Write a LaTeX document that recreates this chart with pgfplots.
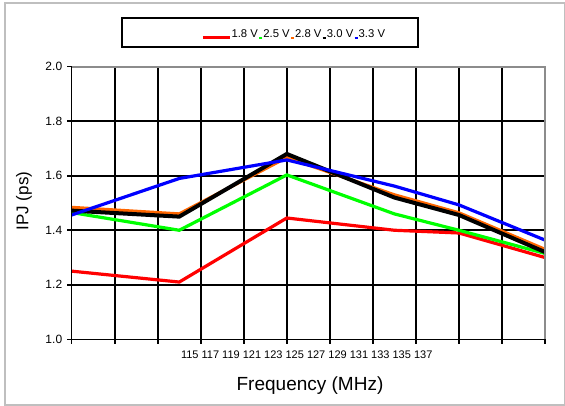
\documentclass[border=0pt]{standalone}
\usepackage{pgfplots}
\pgfplotsset{compat=1.18}
\usepackage{fontspec}
\setmainfont{Liberation Sans}

\definecolor{vred}{HTML}{FF0000}
\definecolor{vgreen}{HTML}{00FF00}
\definecolor{vorange}{HTML}{FF6600}
\definecolor{vblue}{HTML}{0000FF}
\definecolor{frame}{HTML}{BFBFBF}
\definecolor{pborder}{HTML}{8C8C8C}

\pgfplotsset{
  longleg/.style={legend image code/.code={\draw[##1] (0bp,-3.6bp) -- (27bp,-3.6bp);}},
  tinyleg/.style={legend image code/.code={\draw[##1, line width=2bp] (0bp,-4.4bp) -- (3bp,-4.4bp);}},
}

\begin{document}
\begin{tikzpicture}
\begin{axis}[
    scale only axis,
    width=473.3bp, height=272.6bp,
    at={(0,0)}, anchor=south west,
    clip mode=individual,
    xmin=115, xmax=137, ymin=1, ymax=2,
    xtick={115,117,...,137}, xticklabels={},
    ytick={1,1.2,1.4,1.6,1.8,2},
    /pgf/number format/assume math mode=true,
    ticklabel style={font=\fontsize{12bp}{14bp}\selectfont},
    yticklabel style={xshift=-1.5bp, /pgf/number format/.cd, fixed, fixed zerofill, precision=1},
    grid=major,
    grid style={black, line width=1.6bp},
    axis line style={draw=none},
    tick style={black, line width=1.6bp},
    tick align=outside, major tick length=4.5bp,
    xtick pos=bottom, ytick pos=left,
    ylabel={IPJ (ps)},
    ylabel style={font=\fontsize{17bp}{20bp}\selectfont, at={(axis description cs:-0.1008,0.507)}, anchor=center},
    xlabel={Frequency (MHz)},
    xlabel style={font=\fontsize{19bp}{22bp}\selectfont, at={(axis description cs:0.5035,-0.168)}, anchor=center},
    legend columns=5,
    legend style={draw=none, fill=none, at={(axis description cs:0.2668,1.1206)}, anchor=west,
        font=\fontsize{11.3bp}{14bp}\selectfont,
        nodes={inner xsep=0.2bp, inner ysep=1bp},
        /tikz/every even column/.append style={column sep=0pt}},
  ]
\addplot[vred, line width=3.2bp, longleg]
  coordinates {(115,1.25) (120,1.21) (125,1.445) (130,1.40) (133,1.39) (137,1.30)};
\addplot[vgreen, line width=3.2bp, tinyleg]
  coordinates {(115,1.465) (120,1.40) (125,1.603) (130,1.46) (133,1.40) (137,1.315)};
\addplot[vorange, line width=3.2bp, tinyleg]
  coordinates {(115,1.484) (120,1.46) (125,1.667) (130,1.53) (133,1.464) (137,1.33)};
\addplot[black, line width=4bp, tinyleg]
  coordinates {(115,1.472) (120,1.45) (125,1.68) (130,1.52) (133,1.456) (137,1.32)};
\addplot[vblue, line width=3.2bp, tinyleg]
  coordinates {(115,1.456) (120,1.59) (125,1.658) (130,1.562) (133,1.493) (137,1.364)};
\legend{1.8 V, 2.5 V, 2.8 V, 3.0 V, 3.3 V}
% plot area border: grey top/right, black left/bottom
\draw[pborder, line width=2bp] (rel axis cs:0,1) -- (rel axis cs:1,1) -- (rel axis cs:1,0);
\draw[black, line width=1.6bp] (rel axis cs:0,1) -- (rel axis cs:0,0) -- (rel axis cs:1,0);
% the x tick labels are one string in the original
\node[font=\fontsize{11bp}{13bp}\selectfont, anchor=center] at (axis description cs:0.4966,-0.0576)
  {115 117 119 121 123 125 127 129 131 133 135 137};
\end{axis}
% legend box
\draw[black, line width=1.6bp] (50.3bp,292.3bp) rectangle (346.3bp,321.3bp);
% chart frame
\draw[frame, line width=1.2bp] (-66.7bp,-65.7bp) rectangle (493.3bp,336.3bp);
\pgfresetboundingbox
\useasboundingbox (-71.7bp,-66.7bp) rectangle (493.3bp,339.3bp);
\end{tikzpicture}
\end{document}
